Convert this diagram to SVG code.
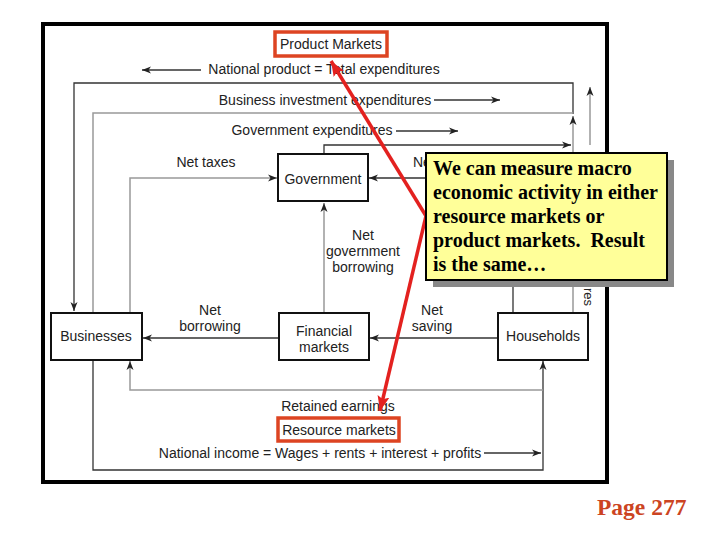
<svg xmlns="http://www.w3.org/2000/svg" width="720" height="540" viewBox="0 0 720 540">
<style>
text{font-family:"Liberation Sans",Arial,sans-serif;font-size:14px;fill:#222}
.c{text-anchor:middle}
.box{fill:#fff;stroke:#111;stroke-width:2}
.mk{fill:#fff;stroke:#dd4422;stroke-width:3.5}
.dk{fill:none;stroke:#333;stroke-width:1.3}
.gy{fill:none;stroke:#999;stroke-width:1.5}
.red{fill:none;stroke:#e3211f;stroke-width:3.5}
.co{font-family:"Liberation Serif","Times New Roman",serif;font-weight:bold;font-size:20px;fill:#000}
</style>
<defs>
<marker id="a" markerUnits="userSpaceOnUse" markerWidth="10" markerHeight="8" refX="9" refY="4" orient="auto">
<path d="M0,0.5 L9,4 L0,7.5 L2.5,4 Z" fill="#222"/>
</marker>
<marker id="r" markerUnits="userSpaceOnUse" markerWidth="16" markerHeight="12" refX="15" refY="6" orient="auto">
<path d="M0,0 L15,6 L0,12 L3,6 Z" fill="#e3211f"/>
</marker>
</defs>
<rect width="720" height="540" fill="#fff"/>
<rect x="43" y="24" width="564" height="458" fill="none" stroke="#000" stroke-width="4"/>

<g id="connectors">
<path class="dk" d="M573,114 V83 H74 V311" marker-end="url(#a)"/>
<path class="gy" d="M573,313 V116" marker-end="url(#a)"/>
<path class="gy" d="M93,313 V113 H573"/>
<path class="dk" d="M324,153 V145 H571" marker-end="url(#a)"/>
<path class="gy" d="M130,313 V178 H277" marker-end="url(#a)"/>
<path class="dk" d="M513,313 V178 H369" marker-end="url(#a)"/>
<path class="gy" d="M324,313 V203" marker-end="url(#a)"/>
<path class="dk" d="M279,338 H143" marker-end="url(#a)"/>
<path class="dk" d="M498,338 H370" marker-end="url(#a)"/>
<path class="dk" d="M93,360 V470 H543 V361" marker-end="url(#a)"/>
<path class="gy" d="M543,390 H130 V361" marker-end="url(#a)"/>
<path class="dk" d="M484,453 H541" marker-end="url(#a)"/>
<path class="dk" d="M201,70 H142" marker-end="url(#a)"/>
<path class="dk" d="M434,100 H500" marker-end="url(#a)"/>
<path class="dk" d="M396,131 H458" marker-end="url(#a)"/>
<path class="gy" d="M590,145 V87" marker-end="url(#a)"/>
</g>

<g id="labels">
<text class="c" x="324" y="74">National product = Total expenditures</text>
<text class="c" x="325" y="105">Business investment expenditures</text>
<text class="c" x="312" y="135">Government expenditures</text>
<text class="c" x="206" y="167">Net taxes</text>
<text x="413" y="167">Net taxes</text>
<text class="c" x="363" y="240">Net</text>
<text class="c" x="363" y="256">government</text>
<text class="c" x="363" y="272">borrowing</text>
<text class="c" x="210" y="315">Net</text>
<text class="c" x="210" y="331">borrowing</text>
<text class="c" x="432" y="315">Net</text>
<text class="c" x="432" y="331">saving</text>
<text class="c" x="338" y="411">Retained earnings</text>
<text class="c" x="320" y="458">National income = Wages + rents + interest + profits</text>
<text transform="translate(584,306) rotate(90)" text-anchor="end" style="font-size:13px">Consumption expenditures</text>
</g>

<g id="product-markets">
<rect class="mk" x="275" y="32" width="112" height="24"/>
<text class="c" x="331" y="49">Product Markets</text>
</g>
<g id="government">
<rect class="box" x="278" y="154" width="90" height="47"/>
<text class="c" x="323" y="184">Government</text>
</g>
<g id="businesses">
<rect class="box" x="51" y="313" width="91" height="47"/>
<text class="c" x="96" y="341">Businesses</text>
</g>
<g id="financial-markets">
<rect class="box" x="279" y="313" width="90" height="47"/>
<text class="c" x="324" y="336">Financial</text>
<text class="c" x="324" y="352">markets</text>
</g>
<g id="households">
<rect class="box" x="498" y="313" width="90" height="47"/>
<text class="c" x="543" y="341">Households</text>
</g>
<g id="resource-markets">
<rect class="mk" x="278" y="418" width="121" height="23"/>
<text class="c" x="339" y="435">Resource markets</text>
</g>

<g id="callout-arrows">
<path class="red" d="M426,216 L331,61" marker-end="url(#r)"/>
<path class="red" d="M426,216 L380,411" marker-end="url(#r)"/>
</g>

<g id="callout">
<rect x="433" y="160" width="241" height="127" fill="#888"/>
<rect x="426" y="153" width="241" height="127" fill="#ffff99" stroke="#000" stroke-width="2"/>
<text class="co" x="433" y="175">We can measure macro</text>
<text class="co" x="433" y="199">economic activity in either</text>
<text class="co" x="433" y="223">resource markets or</text>
<text class="co" x="433" y="247" xml:space="preserve">product markets.  Result</text>
<text class="co" x="433" y="271">is the same…</text>
</g>

<text x="597" y="515" style="font-family:'Liberation Serif','Times New Roman',serif;font-weight:bold;font-size:23.5px;fill:#cc4422">Page 277</text>
</svg>
